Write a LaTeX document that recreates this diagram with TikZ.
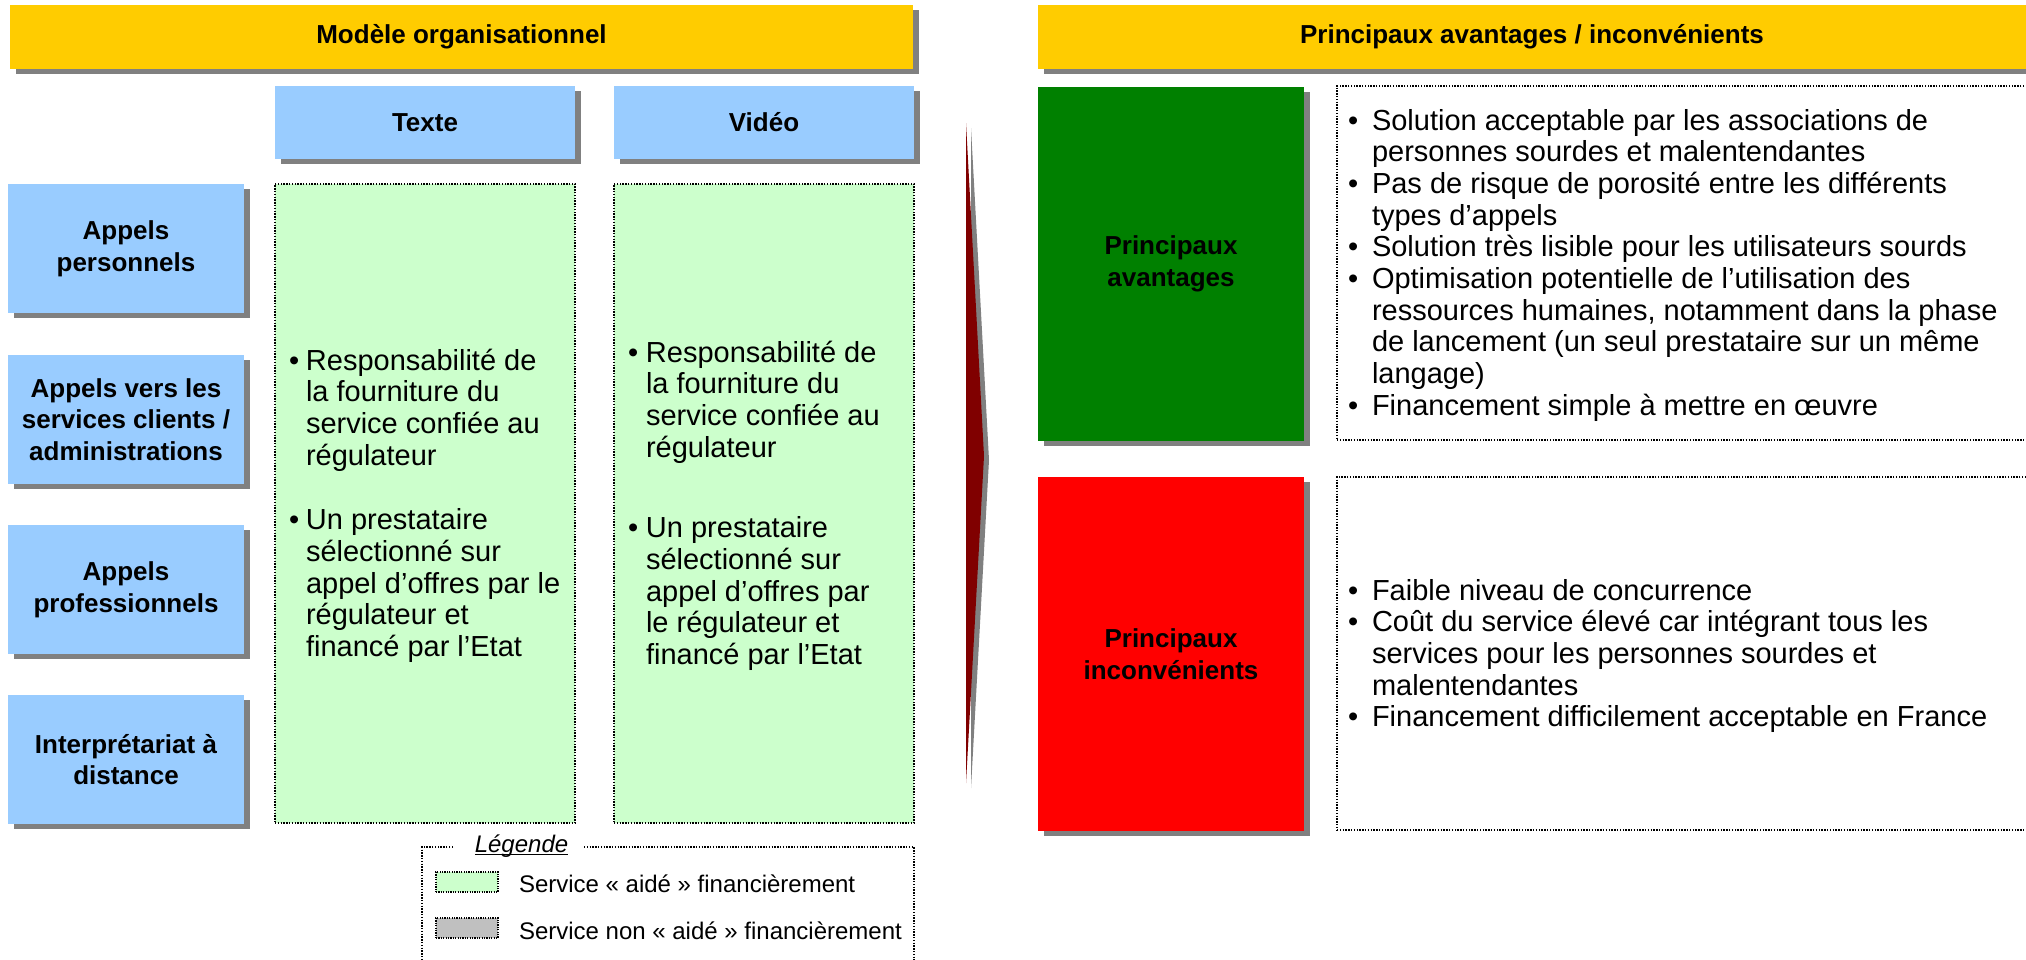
\documentclass[tikz,border=0pt]{standalone}
\usepackage{fontspec}
\setmainfont{Liberation Sans}
\usetikzlibrary{shadows}
\definecolor{hdryellow}{HTML}{FFCC00}
\definecolor{hdrblue}{HTML}{99CCFF}
\definecolor{lgreen}{HTML}{CCFFCC}
\definecolor{shgray}{HTML}{808080}
\definecolor{dgreen}{HTML}{008000}
\definecolor{bred}{HTML}{FF0000}
\definecolor{dred}{HTML}{800000}
\definecolor{swgray}{HTML}{C0C0C0}
\newcommand\bl[1]{\makebox[#1][l]{\textbullet}}
\begin{document}
\begin{tikzpicture}[x=1pt,y=-1pt,
  shade box/.style={inner sep=0pt, outer sep=0pt, align=center,
    font=\fontsize{26}{31.7}\selectfont\bfseries,
    drop shadow={shadow xshift=6pt, shadow yshift=-5pt, fill=shgray, opacity=1}},
  hdr/.style={shade box, fill=hdryellow, minimum height=64pt},
  bluebox/.style={shade box, fill=hdrblue},
  dotline/.style={draw=black, line width=1.4pt, dash pattern=on 1.4pt off 1.4pt},
  greenbox/.style={fill=lgreen, dotline, inner sep=0pt, outer sep=0pt},
  dotbox/.style={dotline, inner sep=0pt, outer sep=0pt},
  txt/.style={inner sep=0pt, outer sep=0pt, anchor=base west, font=\fontsize{29}{31.7}\selectfont},
  legtxt/.style={inner sep=0pt, outer sep=0pt, anchor=base west, font=\fontsize{24}{28}\selectfont},
  swatch/.style={dotline, line width=1.2pt, dash pattern=on 1.2pt off 1.2pt, minimum width=62pt, minimum height=20pt, inner sep=0pt}
]
\useasboundingbox (0,0) rectangle (2026,959);

% headers
\node[hdr, minimum width=903pt] (hmod) at (461.5,37) {Modèle organisationnel};
\node[hdr, minimum width=1000pt] (hav) at (1538,37) {\hspace*{-12pt}Principaux avantages / inconvénients};

% column headers
\node[bluebox, minimum width=300pt, minimum height=73pt] (ctexte) at (425,122.5) {Texte};
\node[bluebox, minimum width=300pt, minimum height=73pt] (cvideo) at (764,122.5) {Vidéo};

% row headers
\node[bluebox, minimum width=236pt, minimum height=129pt] (r1) at (126,248.5) {Appels\\personnels};
\node[bluebox, minimum width=236pt, minimum height=129pt] (r2) at (126,419.5) {Appels vers les\\services clients /\\administrations};
\node[bluebox, minimum width=236pt, minimum height=129pt] (r3) at (126,589.5) {Appels\\professionnels};
\node[bluebox, minimum width=236pt, minimum height=129pt] (r4) at (126,759.5) {Interprétariat à\\distance};

% green cells
\node[greenbox, minimum width=300pt, minimum height=639pt] (gtexte) at (425,503.5) {};
\node[greenbox, minimum width=300pt, minimum height=639pt] (gvideo) at (764,503.5) {};

\node[txt] (ttexte) at (289,370) {\parbox[t]{285pt}{\raggedright
\bl{17pt}Responsabilité de\\
\hspace*{17pt}la fourniture du\\
\hspace*{17pt}service confiée au\\
\hspace*{17pt}régulateur\\[33pt]
\bl{17pt}Un prestataire\\
\hspace*{17pt}sélectionné sur\\
\hspace*{17pt}appel d’offres par le\\
\hspace*{17pt}régulateur et\\
\hspace*{17pt}financé par l’Etat}};

\node[txt] (tvideo) at (628,362) {\parbox[t]{285pt}{\raggedright
\bl{18pt}Responsabilité de\\
\hspace*{18pt}la fourniture du\\
\hspace*{18pt}service confiée au\\
\hspace*{18pt}régulateur\\[49pt]
\bl{18pt}Un prestataire\\
\hspace*{18pt}sélectionné sur\\
\hspace*{18pt}appel d’offres par\\
\hspace*{18pt}le régulateur et\\
\hspace*{18pt}financé par l’Etat}};

% arrow
\fill[shgray] (971,128) -- (989,460) -- (971,788) -- cycle;
\fill[dred] (966,123) -- (984,456) -- (966,783) -- cycle;

% advantages / drawbacks
\node[shade box, fill=dgreen, minimum width=266pt, minimum height=354pt] (pav) at (1171,264) {Principaux\\avantages};
\node[shade box, fill=bred, minimum width=266pt, minimum height=354pt] (pinc) at (1171,654) {Principaux\\inconvénients};

\node[dotbox, minimum width=763pt, minimum height=354pt] (dtop) at (1718.5,263) {};
\node[dotbox, minimum width=763pt, minimum height=353pt] (dbot) at (1718.5,653.5) {};

\node[txt] (ttop) at (1348,130) {\parbox[t]{680pt}{\raggedright
\bl{24pt}Solution acceptable par les associations de\\
\hspace*{24pt}personnes sourdes et malentendantes\\
\bl{24pt}Pas de risque de porosité entre les différents\\
\hspace*{24pt}types d’appels\\
\bl{24pt}Solution très lisible pour les utilisateurs sourds\\
\bl{24pt}Optimisation potentielle de l’utilisation des\\
\hspace*{24pt}ressources humaines, notamment dans la phase\\
\hspace*{24pt}de lancement (un seul prestataire sur un même\\
\hspace*{24pt}langage)\\
\bl{24pt}Financement simple à mettre en œuvre}};

\node[txt] (tbot) at (1348,600) {\parbox[t]{680pt}{\raggedright
\bl{24pt}Faible niveau de concurrence\\
\bl{24pt}Coût du service élevé car intégrant tous les\\
\hspace*{24pt}services pour les personnes sourdes et\\
\hspace*{24pt}malentendantes\\
\bl{24pt}Financement difficilement acceptable en France}};

% legend
\node[inner sep=0pt, outer sep=0pt, anchor=base, font=\fontsize{24}{28}\selectfont\itshape] (leg) at (521.5,852) {Légende};
\draw[line width=1.3pt] ([yshift=-2.5pt]leg.base west) -- ([yshift=-2.5pt]leg.base east);
\draw[dotline] (453,847) -- (422,847) -- (422,965);
\draw[dotline] (584,847) -- (914,847) -- (914,965);
\node[swatch, fill=lgreen] (sw1) at (467,882) {};
\node[swatch, fill=swgray] (sw2) at (467,928) {};
\node[legtxt] (lt1) at (519,892) {Service « aidé » financièrement};
\node[legtxt] (lt2) at (519,939) {Service non « aidé » financièrement};
\end{tikzpicture}
\end{document}
